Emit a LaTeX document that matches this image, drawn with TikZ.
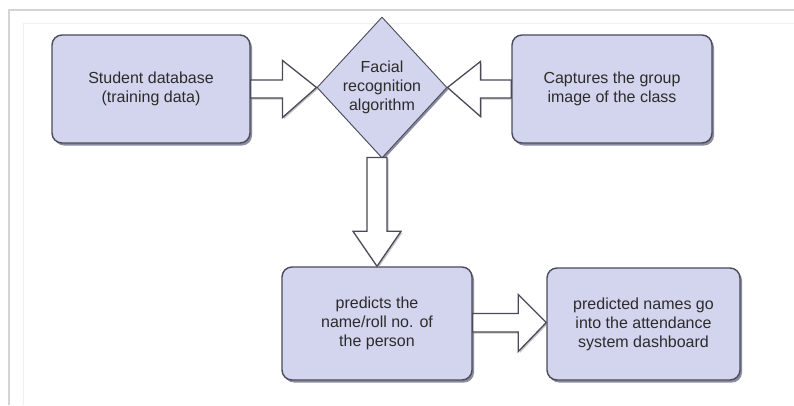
\documentclass[tikz,border=0pt]{standalone}
\usepackage{fontspec}
\setmainfont{Liberation Sans}
\usetikzlibrary{shapes.geometric,shadows,calc}
\definecolor{boxfill}{HTML}{D3D5EE}
\definecolor{boxline}{HTML}{4A4A58}
\definecolor{framec}{HTML}{D4D4D4}
\definecolor{framef}{HTML}{F0F0F0}
\definecolor{txtc}{HTML}{2B2B2B}
\definecolor{shadc}{HTML}{5A5C78}
\begin{document}
\begin{tikzpicture}[x=1pt,y=-1pt,
  procbox/.style={draw=boxline, line width=1.4pt, fill=boxfill, rounded corners=10pt,
    inner sep=0pt, align=center, text=txtc, font=\fontsize{16}{19}\selectfont,
    drop shadow={shadow xshift=2pt, shadow yshift=-2.5pt, fill=shadc, opacity=0.7}},
  decision/.style={diamond, draw=boxline, line width=0.9pt, fill=boxfill, inner sep=0pt,
    minimum width=130pt, minimum height=141pt,
    drop shadow={shadow xshift=1.5pt, shadow yshift=-2pt, fill=shadc, opacity=0.7}},
  dtext/.style={align=center, text=txtc, font=\fontsize{16}{19}\selectfont, inner sep=0pt},
  blockarrow/.style={draw=boxline, line width=1.3pt, fill=white, line join=miter,
    drop shadow={shadow xshift=1.5pt, shadow yshift=-1.5pt, fill=black!45, opacity=0.5}},
  framel/.style={draw=framec, line width=1.2pt},
  framefaint/.style={draw=framef, line width=1pt}
]
\useasboundingbox (0,0) rectangle (794,405);
\fill[white] (0,0) rectangle (794,405);
% frame
\draw[framefaint] (23,405) -- (23,23) -- (794,23);
\draw[framel] (9,405) -- (9,10) -- (794,10);

% nodes
\node[procbox, minimum width=198pt, minimum height=108pt] (db) at (151,89) {Student database\\(training data)};
\node[procbox, minimum width=200pt, minimum height=108pt] (cap) at (612,89) {Captures the group\\image of the class};
\node[decision] (alg) at (382,87.5) {};
\node[dtext] (algt) at (alg.center) {Facial\\recognition\\algorithm};
\node[procbox, minimum width=190pt, minimum height=113pt] (pred) at (377,323.5) {predicts the\\name/roll no. of\\the person};
\node[procbox, minimum width=193pt, minimum height=112pt] (dash) at (643.5,324) {predicted names go\\into the attendance\\system dashboard};

% block arrows
\draw[blockarrow] let \p1=(db.east), \p2=(alg.west) in
  (\x1,\y1+9pt) -- (\x2-34pt,\y1+9pt) -- (\x2-34pt,\y1+28.5pt) -- (\x2,\y2)
  -- (\x2-34pt,\y1-28.5pt) -- (\x2-34pt,\y1-9pt) -- (\x1,\y1-9pt) -- cycle;
\draw[blockarrow] let \p1=(cap.west), \p2=(alg.east) in
  (\x1,\y1+9pt) -- (\x2+33pt,\y1+9pt) -- (\x2+33pt,\y1+27.5pt) -- (\x2,\y2)
  -- (\x2+33pt,\y1-27.5pt) -- (\x2+33pt,\y1-9pt) -- (\x1,\y1-9pt) -- cycle;
\draw[blockarrow] let \p1=(alg.south), \p2=(pred.north) in
  (\x2-10pt,\y1+1pt) -- (\x2-10pt,\y2+35pt) -- (\x2-24pt,\y2+35pt) -- (\x2,\y2)
  -- (\x2+24pt,\y2+35pt) -- (\x2+10pt,\y2+35pt) -- (\x2+10pt,\y1+1pt) -- cycle;
\draw[blockarrow] let \p1=(pred.east), \p2=(dash.west) in
  (\x1,\y1+10pt) -- (\x2-28pt,\y1+10pt) -- (\x2-28pt,\y1+29pt) -- (\x2,\y1+1pt)
  -- (\x2-28pt,\y1-28pt) -- (\x2-28pt,\y1-8.5pt) -- (\x1,\y1-8.5pt) -- cycle;
\end{tikzpicture}
\end{document}
